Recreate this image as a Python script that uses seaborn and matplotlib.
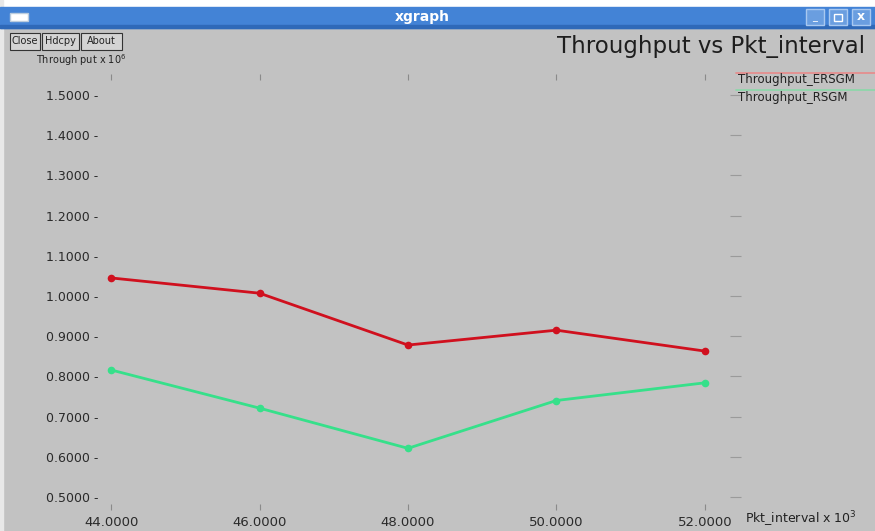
#xgraph style throughput chart
import matplotlib
matplotlib.use("Agg")
import matplotlib.pyplot as plt
import seaborn as sns
from matplotlib.patches import Rectangle
from matplotlib.lines import Line2D
from pandas import DataFrame

pkt_interval = [44, 46, 48, 50, 52]
thr_ersgm = [1.045, 1.007, 0.878, 0.915, 0.863]
thr_rsgm = [0.816, 0.721, 0.621, 0.740, 0.784]
series_names = ['Throughput_ERSGM', 'Throughput_RSGM']
y_ticks = [0.5, 0.6, 0.7, 0.8, 0.9, 1.0, 1.1, 1.2, 1.3, 1.4, 1.5]

df = DataFrame({'interval': pkt_interval * 2,
                'throughput': thr_ersgm + thr_rsgm,
                'series': [series_names[0]] * 5 + [series_names[1]] * 5})

sns.set_style("white")
plt.rcParams['font.family'] = ['DejaVu Sans']

W, H = 875, 531
bg = '#c2c2c2'
red = '#d0101e'
green = '#36e08a'

fig = plt.figure(figsize=(W / 100, H / 100), dpi=100)
fig.patch.set_facecolor(bg)

def fx(px):
    return px / W

def fy(py):
    return 1 - py / H

# window chrome
fig.add_artist(Rectangle((0, fy(7)), 1, 7 / H, transform=fig.transFigure, color='white', zorder=0))
fig.add_artist(Rectangle((0, 0), fx(3), 1, transform=fig.transFigure, color='#e8e8e8', zorder=0))
fig.add_artist(Rectangle((0, fy(28)), 1, 21 / H, transform=fig.transFigure, color='#4383d6', zorder=1))
fig.add_artist(Rectangle((fx(0), fy(28)), 1, 3 / H, transform=fig.transFigure, color='#2f69b8', zorder=1))
fig.add_artist(Rectangle((fx(10), fy(21)), fx(18), 8 / H, transform=fig.transFigure,
                         facecolor='white', edgecolor='#bcd', zorder=2))
fig.text(fx(422), fy(17), 'xgraph', color='white', fontsize=10, fontweight='bold',
         ha='center', va='center', zorder=3)
for x0 in [806, 829, 852]:
    fig.add_artist(Rectangle((fx(x0), fy(25)), fx(18), 16 / H, transform=fig.transFigure,
                             facecolor='#6a9ee0', edgecolor='#a8c8f0', zorder=2))
fig.text(fx(815), fy(17), '_', color='white', fontsize=7, ha='center', va='center', zorder=3)
fig.add_artist(Rectangle((fx(834), fy(21)), fx(8), 7 / H, transform=fig.transFigure,
                         facecolor='none', edgecolor='white', zorder=3))
fig.text(fx(861), fy(17), 'x', color='white', fontsize=9, fontweight='bold',
         ha='center', va='center', zorder=3)

# buttons
for x0, x1, lab in [(10, 40, 'Close'), (42, 79, 'Hdcpy'), (81, 122, 'About')]:
    fig.add_artist(Rectangle((fx(x0), fy(50)), fx(x1 - x0), 17 / H, transform=fig.transFigure,
                             facecolor='#d4d4d4', edgecolor='#333333', lw=0.8, zorder=2))
    fig.text(fx((x0 + x1) / 2), fy(41.5), lab, fontsize=7, color='#222222',
             ha='center', va='center', zorder=3)

# plot area
ax = fig.add_axes([fx(100), fy(507), fx(630), 430 / H])
ax.set_facecolor(bg)
sns.lineplot(data=df, x='interval', y='throughput', hue='series',
             palette=[red, green], marker='o', markersize=5.5, markeredgewidth=0,
             linewidth=2, legend=False, ax=ax)
ax.set_xlim(43.85, 52.34)
ax.set_ylim(0.475, 1.545)
for s in ax.spines.values():
    s.set_visible(False)
ax.set_xlabel('')
ax.set_ylabel('')
ax.set_xticks(pkt_interval)
ax.set_xticklabels(['%.4f' % v for v in pkt_interval], fontsize=9.5, color='#2a2a2a')
ax.set_yticks(y_ticks)
ax.set_yticklabels(['%.4f -' % v for v in y_ticks], fontsize=9, color='#2a2a2a')
ax.tick_params(axis='x', top=True, bottom=True, direction='inout', length=5,
               width=0.8, color='#8a8a8a', pad=4)
ax.tick_params(axis='y', left=False, right=True, direction='out', length=8,
               width=0.8, color='#9a9a9a', pad=-7)

# titles and axis names
fig.text(fx(865), fy(47), 'Throughput vs Pkt_interval', fontsize=16.5, color='#1e1e1e',
         ha='right', va='center')
fig.text(fx(36), fy(60), 'Through put x 10$^{6}$', fontsize=7, color='#222222',
         ha='left', va='center')
fig.text(fx(745), fy(519), 'Pkt_interval x 10$^{3}$', fontsize=9, color='#222222',
         ha='left', va='center')

# legend
fig.add_artist(Line2D([fx(736), fx(875)], [fy(73), fy(73)], transform=fig.transFigure,
                      color='#e88a8a', lw=1.2))
fig.text(fx(738), fy(80), series_names[0], fontsize=8.5, color='#222222', ha='left', va='center')
fig.add_artist(Line2D([fx(736), fx(875)], [fy(90), fy(90)], transform=fig.transFigure,
                      color='#8ad8a8', lw=1.2))
fig.text(fx(738), fy(97), series_names[1], fontsize=8.5, color='#222222', ha='left', va='center')

plt.savefig('out.png', dpi=100, facecolor=fig.get_facecolor())
